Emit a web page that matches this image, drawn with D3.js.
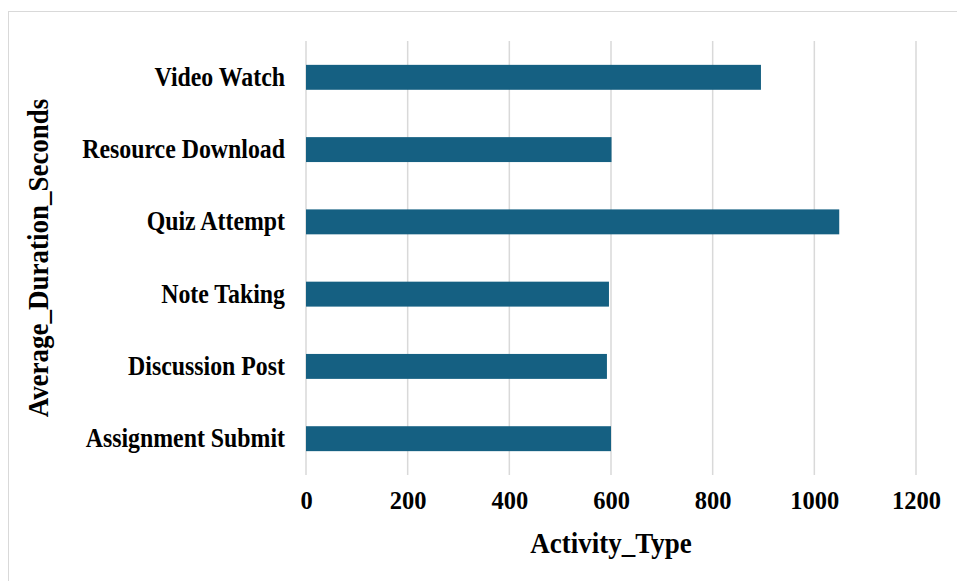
<!DOCTYPE html>
<html>
<head>
<meta charset="utf-8">
<script src="https://cdn.jsdelivr.net/npm/d3@7"></script>
<style>
  body { margin: 0; background: #fff; }
  text { font-family: "Liberation Serif", "Times New Roman", serif; font-weight: bold; fill: #000; }
</style>
</head>
<body>
<div id="viz"></div>
<script>
// chart data
var categories = ["Video Watch", "Resource Download", "Quiz Attempt", "Note Taking", "Discussion Post", "Assignment Submit"];
var durations = [895, 601, 1049, 596, 592, 600];
var xTicks = [0, 200, 400, 600, 800, 1000, 1200];

var width = 957,
    height = 581;
var margin = {top: 41, right: 41, bottom: 106, left: 306};
var squeeze = 0.9; // the labels in the picture are a bit narrower than Liberation Serif

var svg = d3.select("#viz").append("svg")
    .attr("width", width)
    .attr("height", height);

// outer frame (only top and left edges show in the picture)
svg.append("rect")
  .attr("x", 8.5)
  .attr("y", 11.5)
  .attr("width", width + 20)
  .attr("height", height + 20)
  .style("fill", "none")
  .style("stroke", "#d9d9d9")
  .style("stroke-width", 1);

var x = d3.scaleLinear()
  .domain([0, 1200])
  .range([margin.left, width - margin.right]);

var y = d3.scaleBand()
  .domain(categories)
  .range([margin.top, height - margin.bottom])
  .paddingInner(0.655)
  .paddingOuter(0.33);

// gridlines
svg.selectAll(".grid")
  .data(xTicks)
  .enter()
  .append("line")
  .attr("x1", function(d) { return x(d); })
  .attr("x2", function(d) { return x(d); })
  .attr("y1", margin.top)
  .attr("y2", height - margin.bottom)
  .style("stroke", "#d9d9d9")
  .style("stroke-width", 1.5);

// bars
svg.selectAll(".bar")
  .data(durations)
  .enter()
  .append("rect")
  .attr("x", x(0))
  .attr("y", function(d, i) { return y(categories[i]); })
  .attr("width", function(d) { return x(d) - x(0); })
  .attr("height", y.bandwidth())
  .style("fill", "#156082");

// x axis labels
var xAxis = d3.axisBottom(x)
  .tickValues(xTicks)
  .tickFormat(d3.format("d"))
  .tickSize(0)
  .tickPadding(17);

var gx = svg.append("g")
  .attr("transform", "translate(0," + (height - margin.bottom) + ")")
  .call(xAxis);
gx.select(".domain").remove();
gx.selectAll("text")
  .style("font-size", "24.5px")
  .style("font-family", "'Liberation Serif', serif")
  .style("font-weight", "bold")
  .attr("fill", "#000");

// y axis labels
var yAxis = d3.axisLeft(y)
  .tickSize(0)
  .tickPadding(21);

var gy = svg.append("g")
  .attr("transform", "translate(" + margin.left + ",0)")
  .call(yAxis);
gy.select(".domain").remove();
gy.selectAll("text")
  .attr("x", -21 / squeeze)
  .attr("transform", "scale(" + squeeze + ",1)")
  .style("font-size", "26.5px")
  .style("font-family", "'Liberation Serif', serif")
  .style("font-weight", "bold")
  .attr("fill", "#000");

// axis titles
svg.append("text")
  .attr("transform", "translate(" + ((x(0) + x(1200)) / 2) + ",553) scale(" + squeeze + ",1)")
  .attr("text-anchor", "middle")
  .style("font-size", "30px")
  .text("Activity_Type");

svg.append("text")
  .attr("transform", "translate(48," + ((margin.top + height - margin.bottom) / 2) + ") rotate(-90) scale(" + squeeze + ",1)")
  .attr("text-anchor", "middle")
  .style("font-size", "30px")
  .text("Average_Duration_Seconds");
</script>
</body>
</html>
